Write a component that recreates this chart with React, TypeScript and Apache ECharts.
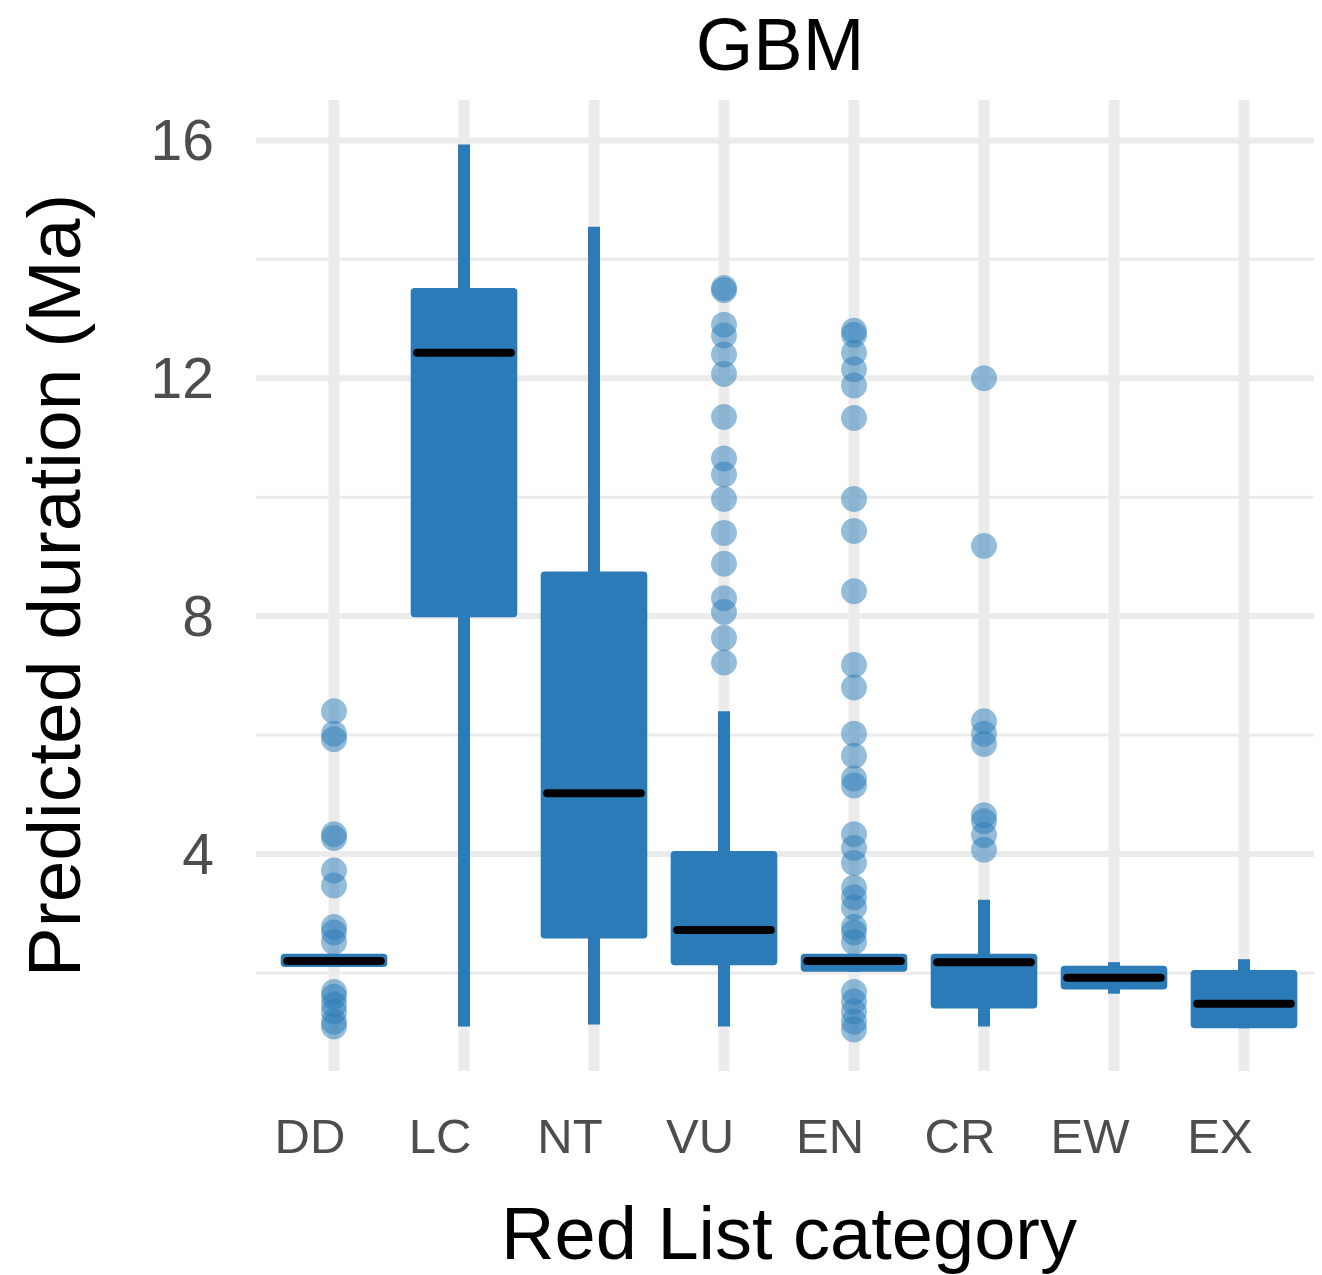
import { useRef, useEffect } from 'react';
import * as echarts from 'echarts';

const categories = ['DD', 'LC', 'NT', 'VU', 'EN', 'CR', 'EW', 'EX'];
// [lowWhisker, q1, median, q3, highWhisker]
const boxStats = [
  [2.1, 2.1, 2.2, 2.32, 2.32],
  [1.1, 7.98, 12.43, 13.52, 15.93],
  [1.13, 2.58, 5.02, 8.75, 14.55],
  [1.1, 2.13, 2.72, 4.05, 6.4],
  [2.02, 2.02, 2.2, 2.32, 2.32],
  [1.1, 1.4, 2.18, 2.32, 3.23],
  [1.65, 1.72, 1.92, 2.12, 2.18],
  [1.07, 1.07, 1.48, 2.05, 2.23],
];
const outliers: number[][] = [
  [6.4, 6.02, 5.93, 4.33, 4.27, 3.72, 3.47, 2.77, 2.68, 2.52, 1.68, 1.6, 1.47, 1.35, 1.18, 1.1],
  [],
  [],
  [13.52, 13.48, 12.9, 12.72, 12.4, 12.07, 11.35, 10.65, 10.38, 9.97, 9.4, 8.88, 8.3, 8.07, 7.63, 7.22],
  [12.8, 12.73, 12.43, 12.15, 11.88, 11.33, 9.97, 9.43, 8.42, 7.18, 6.8, 6.02, 5.65, 5.27, 5.15, 4.33, 4.1, 3.85,
    3.43, 3.27, 3.1, 2.77, 2.68, 2.52, 1.68, 1.52, 1.35, 1.18, 1.05],
  [12.0, 9.18, 6.23, 6.02, 5.85, 4.65, 4.55, 4.32, 4.07],
  [],
  [],
];
const yTicks = [4, 8, 12, 16];
const yGrid = [2, 4, 6, 8, 10, 12, 14, 16];

const BLUE = '#2A7BB8';
const FONT = 'Liberation Sans, Arial';
const X_MIN = 0.4, X_MAX = 8.6, Y_MIN = 0.35, Y_MAX = 16.68;

export default function App() {
  const ref = useRef<HTMLDivElement>(null);
  useEffect(() => {
    if (!ref.current) return;
    const chart = echarts.init(ref.current, undefined, { renderer: 'svg' });
    const option = {
      animation: false,
      title: {
        text: 'GBM', left: 767, top: -6, textAlign: 'center',
        textStyle: { fontFamily: FONT, fontSize: 74, fontWeight: 'normal', color: '#000' },
      },
      grid: { left: 219, right: 0, top: 92, bottom: 195 },
      xAxis: {
        type: 'value', min: X_MIN, max: X_MAX,
        name: 'Red List category', nameLocation: 'middle', nameGap: 125,
        nameTextStyle: { fontFamily: FONT, fontSize: 74, color: '#000' },
        axisLine: { show: false }, axisTick: { show: false }, splitLine: { show: false },
        axisLabel: {
          customValues: [1, 2, 3, 4, 5, 6, 7, 8], margin: 40,
          formatter: (v: number) => categories[Math.round(v) - 1] ?? '',
          fontFamily: FONT, fontSize: 49, color: '#4D4D4D', padding: [0, 48, 0, 0],
        },
      },
      yAxis: {
        type: 'value', min: Y_MIN, max: Y_MAX,
        name: 'Predicted duration (Ma)', nameLocation: 'middle', nameGap: 165, nameRotate: 90,
        nameTextStyle: { fontFamily: FONT, fontSize: 75, color: '#000' },
        axisLine: { show: false }, axisTick: { show: false }, splitLine: { show: false },
        axisLabel: {
          customValues: yTicks, margin: 42,
          fontFamily: FONT, fontSize: 57, color: '#4D4D4D',
        },
      },
      series: [
        {
          type: 'custom', silent: true, z: 0,
          data: yGrid.map((v) => [v]),
          renderItem: (_p: any, api: any) => {
            const v = api.value(0);
            const a = api.coord([X_MIN, v]);
            const b = api.coord([X_MAX, v]);
            return {
              type: 'line', shape: { x1: a[0], y1: a[1], x2: b[0], y2: b[1] },
              style: { stroke: '#EBEBEB', lineWidth: v % 4 === 0 ? 6 : 3 },
            };
          },
        },
        {
          type: 'custom', silent: true, z: 0,
          data: categories.map((_, i) => [i + 1]),
          renderItem: (_p: any, api: any) => {
            const x = api.value(0);
            const a = api.coord([x, Y_MIN]);
            const b = api.coord([x, Y_MAX]);
            return {
              type: 'line', shape: { x1: a[0], y1: a[1], x2: b[0], y2: b[1] },
              style: { stroke: '#EBEBEB', lineWidth: 11 },
            };
          },
        },
        {
          type: 'custom', z: 2,
          data: boxStats.map((s, i) => [i + 1, ...s]),
          renderItem: (_p: any, api: any) => {
            const x = api.value(0);
            const lo = api.coord([x, api.value(1)]);
            const q1 = api.coord([x, api.value(2)]);
            const med = api.coord([x, api.value(3)]);
            const q3 = api.coord([x, api.value(4)]);
            const hi = api.coord([x, api.value(5)]);
            const half = api.size([0.82, 0])[0] / 2;
            const mhalf = api.size([0.72, 0])[0] / 2;
            return {
              type: 'group',
              children: [
                { type: 'rect', shape: { x: lo[0] - 6, y: hi[1], width: 12, height: lo[1] - hi[1] }, style: { fill: BLUE } },
                { type: 'rect', shape: { x: q1[0] - half, y: q3[1], width: half * 2, height: Math.max(q1[1] - q3[1], 4), r: 4 }, style: { fill: BLUE } },
                { type: 'line', shape: { x1: med[0] - mhalf, y1: med[1], x2: med[0] + mhalf, y2: med[1] }, style: { stroke: '#000', lineWidth: 8, lineCap: 'round' } },
              ],
            };
          },
        },
        {
          type: 'scatter', z: 3, symbolSize: 26,
          itemStyle: { color: BLUE, opacity: 0.5 },
          data: outliers.flatMap((arr, i) => arr.map((v) => [i + 1, v])),
        },
      ],
    };
    chart.setOption(option);
    return () => chart.dispose();
  }, []);
  return <div ref={ref} style={{ width: 1314, height: 1267 }} />;
}
